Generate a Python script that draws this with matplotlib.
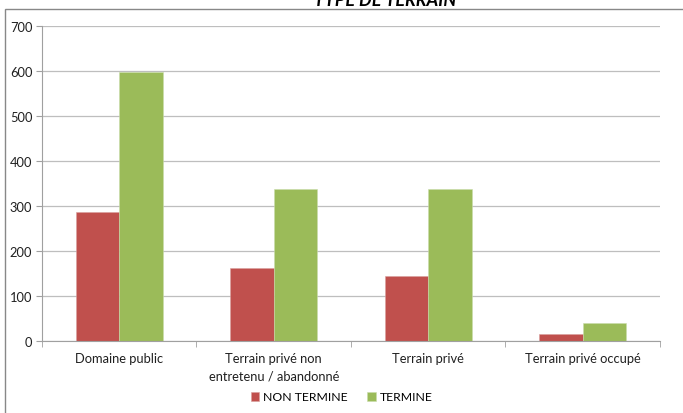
import matplotlib.pyplot as plt
from matplotlib.patches import Rectangle
import numpy as np

plt.rcParams['font.family'] = ['Lato', 'DejaVu Sans']

categories = ['Domaine public', 'Terrain privé non\nentretenu / abandonné',
              'Terrain privé', 'Terrain privé occupé']
non_termine = [286, 163, 144, 15]
termine = [597, 337, 337, 40]
labels = ['NON TERMINE', 'TERMINE']
colors = ['#C0504D', '#9BBB59']

fig = plt.figure(figsize=(6.83, 4.14), dpi=100)
ax = fig.add_axes([42/683, 1-342/414, (660-42)/683, (342-27)/414])

x = np.arange(len(categories))
w = 0.28
ax.bar(x - w/2, non_termine, w, color=colors[0], label=labels[0], edgecolor='#d9a09e', linewidth=0.4)
ax.bar(x + w/2, termine, w, color=colors[1], label=labels[1], edgecolor='#c9dcab', linewidth=0.4)

ax.set_xlim(-0.5, 3.5)
ax.set_ylim(0, 700)
ax.set_yticks(range(0, 701, 100))
ax.yaxis.grid(True, color='#BEBEBE', linewidth=0.9)
ax.set_axisbelow(True)
for s in ['top', 'right']:
    ax.spines[s].set_visible(False)
for s in ['left', 'bottom']:
    ax.spines[s].set_color('#A0A0A0')
ax.set_xticks(x)
ax.set_xticklabels(categories, fontsize=9.3, color='#202020', linespacing=1.5)
ax.tick_params(axis='x', length=0, pad=8)
ax.set_xticks(np.arange(-0.5, 4, 1), minor=True)
ax.tick_params(axis='x', which='minor', length=4, color='#A0A0A0')
ax.tick_params(axis='y', labelsize=9.3, colors='#202020', length=4, color='#A0A0A0', pad=3)

fig.legend(loc='center', bbox_to_anchor=(0.5, 1-398/414), ncol=2, frameon=False,
           fontsize=8.8, handlelength=0.7, handleheight=0.7, handletextpad=0.3,
           columnspacing=1.6)

fig.patches.append(Rectangle((5/683, -0.05), 1.0, 1-10/414+0.05, transform=fig.transFigure,
                             fill=False, edgecolor='#888888', linewidth=1.0))
fig.text(385/683, 1-1/414, 'TYPE DE TERRAIN', ha='center', va='center',
         fontsize=13, fontweight='bold', fontstyle='italic')

fig.savefig('out.png', dpi=100)
